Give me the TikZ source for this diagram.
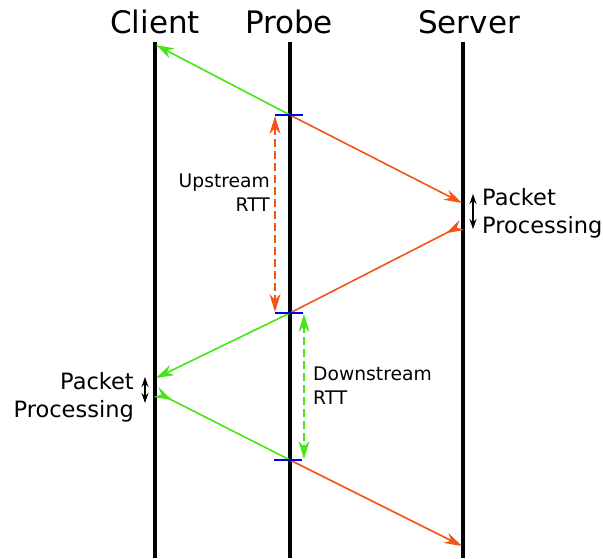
\documentclass[tikz,border=0pt]{standalone}
\usepackage{fontspec}
\setmainfont{DejaVu Sans}
\usetikzlibrary{arrows.meta}
\definecolor{pgreen}{RGB}{70,230,20}
\definecolor{porange}{RGB}{245,85,20}
\definecolor{pblue}{RGB}{0,0,240}
\tikzset{
  tip/.tip={Stealth[length=18pt,width=11pt,inset=6pt]},
  rtip/.tip={Stealth[length=18pt,width=11pt,inset=6pt,reversed]},
  stip/.tip={Stealth[length=10pt,width=7pt,inset=3.5pt]},
  life/.style={line width=4.5pt,black},
  msg/.style={line width=1.6pt,-tip},
  rtt/.style={line width=1.6pt,dash pattern=on 8pt off 4pt,tip-tip},
  proc/.style={line width=1.3pt,stip-stip},
  tick/.style={line width=1.8pt,pblue},
  head/.style={font=\fontsize{31}{34}\selectfont,inner sep=0pt},
  lbl/.style={font=\fontsize{18.7}{24}\selectfont,inner sep=0pt},
  plbl/.style={font=\fontsize{22.5}{28}\selectfont,inner sep=0pt}
}
\begin{document}
\begin{tikzpicture}[x=1pt,y=-1pt]
\useasboundingbox (0,0) rectangle (603,558);
% headers
\node[head] (hc) at (155,22) {Client};
\node[head] (hp) at (289,22) {Probe};
\node[head] (hs) at (469,22) {Server};
% lifelines
\coordinate (ct) at (155,42); \coordinate (cb) at (155,558);
\coordinate (pt) at (290,42); \coordinate (pb) at (290,558);
\coordinate (st) at (463,42); \coordinate (sb) at (463,558);
\draw[life] (ct) -- (cb);
\draw[life] (pt) -- (pb);
\draw[life] (st) -- (sb);
% event points
\coordinate (p1) at (290,115);
\coordinate (p2) at (290,313);
\coordinate (p3) at (290,460);
\coordinate (c1) at (156,45);
\coordinate (c2) at (156,378);
\coordinate (c3) at (156,392);
\coordinate (s1) at (462,203);
\coordinate (s2) at (462,225);
\coordinate (s3) at (462,546);
% messages
\draw[msg,pgreen] (p1) -- (c1);
\draw[msg,porange] (p1) -- (s1);
\draw[line width=1.6pt,porange,rtip-] (s2) -- (p2);
\draw[msg,pgreen] (p2) -- (c2);
\draw[line width=1.6pt,pgreen,rtip-] (c3) -- (p3);
\draw[msg,porange] (p3) -- (s3);
% ticks
\coordinate (t1a) at (275,115); \coordinate (t1b) at (303,115);
\coordinate (t2a) at (275,313); \coordinate (t2b) at (303,313);
\coordinate (t3a) at (274,460); \coordinate (t3b) at (302,460);
\draw[tick] (t1a) -- (t1b);
\draw[tick] (t2a) -- (t2b);
\draw[tick] (t3a) -- (t3b);
% RTT arrows
\coordinate (u1) at (275,116); \coordinate (u2) at (275,312);
\coordinate (d1) at (304,314); \coordinate (d2) at (304,459);
\draw[rtt,porange] (u1) -- (u2);
\draw[rtt,pgreen] (d1) -- (d2);
\node[lbl,align=right,anchor=east] (up) at (270,193) {Upstream\\RTT};
\node[lbl,align=left,anchor=west] (down) at (313,386) {Downstream\\RTT};
% processing
\coordinate (sp1) at (473,194); \coordinate (sp2) at (473,229);
\draw[proc] (sp1) -- (sp2);
\node[plbl,align=left,anchor=west] (sproc) at (482,213) {Packet\\Processing};
\coordinate (cp1) at (145,377); \coordinate (cp2) at (145,403);
\draw[proc] (cp1) -- (cp2);
\node[plbl,align=right,anchor=east] (cproc) at (134,397) {Packet\\Processing};
\end{tikzpicture}
\end{document}
